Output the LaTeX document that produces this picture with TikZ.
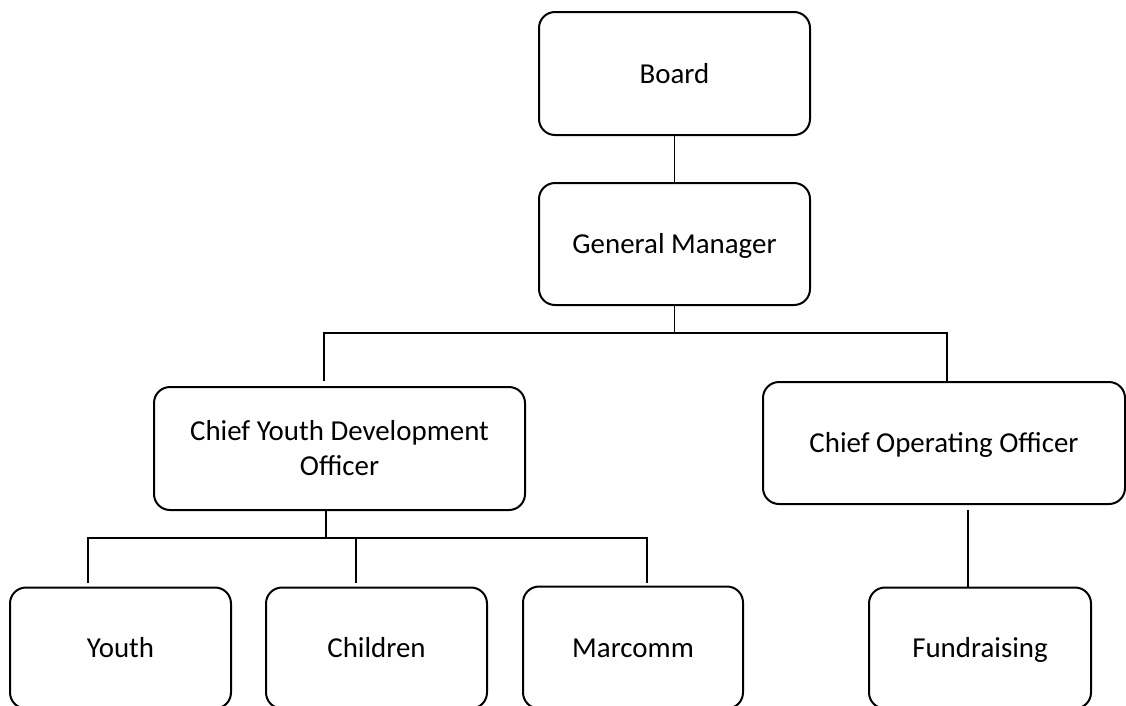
\documentclass[tikz,border=0pt]{standalone}
\usepackage{fontspec}
\setmainfont{Carlito}
\begin{document}
\begin{tikzpicture}[x=1pt,y=-1pt,
  box/.style={draw=black,line width=2pt,rounded corners=16pt,rectangle,
    inner sep=0pt,align=center,font=\fontsize{28.9}{35}\selectfont},
  one/.style={text height=27pt,text depth=8pt},
  conn/.style={draw=black,line width=1.4pt}]
\useasboundingbox[fill=white] (0,0) rectangle (1126,705);
\node[box,one,minimum width=271,minimum height=123] (board) at (674.5,73.5) {Board};
\node[box,one,minimum width=271,minimum height=122] (gm) at (674.5,244) {General Manager};
\node[box,minimum width=371,minimum height=123] (cydo) at (339.5,448.5) {Chief Youth Development\\Officer};
\node[box,one,minimum width=362,minimum height=122] (coo) at (944,443) {Chief Operating Officer};
\node[box,one,minimum width=221,minimum height=121] (youth) at (120.5,648) {Youth};
\node[box,one,minimum width=221,minimum height=121] (children) at (376.5,648) {Children};
\node[box,one,minimum width=220,minimum height=122] (marcomm) at (633,647.5) {Marcomm};
\node[box,one,minimum width=222,minimum height=121] (fund) at (980,648) {Fundraising};
% bus coordinates
\coordinate (gmbus) at (674.5,333);
\coordinate (lcydo) at (324,381);
\coordinate (rcoo) at (947,382);
\coordinate (cydob) at (326,538);
\coordinate (yend) at (88,583);
\coordinate (cend) at (356,583);
\coordinate (mend) at (647,583);
\coordinate (coob) at (968,510);
\draw[conn] (board.south) -- (gm.north);
\draw[conn] (gm.south) -- (gmbus);
\draw[conn] (lcydo) |- (gmbus) -| (rcoo);
\draw[conn] (cydo.south -| cydob) -- (cydob);
\draw[conn] (yend) |- (cydob) -| (mend);
\draw[conn] (cend) -- (cend |- cydob);
\draw[conn] (coob) -- (coob |- fund.north);
\end{tikzpicture}
\end{document}
